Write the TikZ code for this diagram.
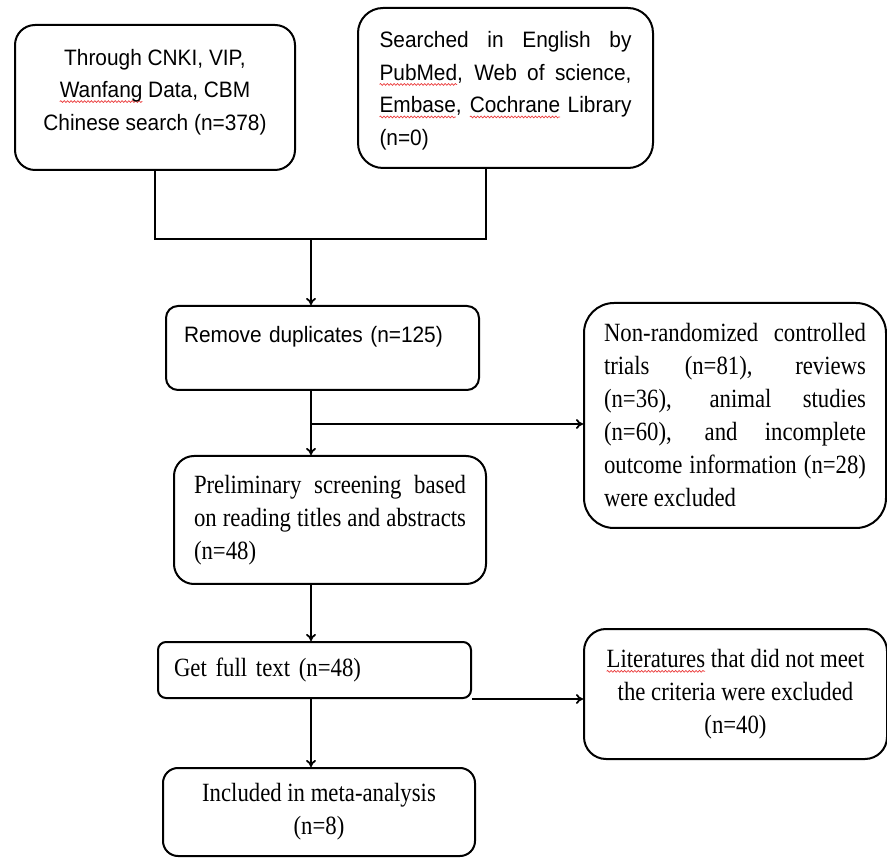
\documentclass[tikz,border=0pt]{standalone}
\usepackage{fontspec}
\setmainfont{Liberation Serif}[FakeStretch=0.865]
\setsansfont{Liberation Sans}[FakeStretch=0.935]
\usepackage{xcolor}
\usetikzlibrary{arrows.meta,positioning,calc,decorations.pathmorphing}
\definecolor{SpellRed}{RGB}{235,60,60}
\newlength\spellw
\newcommand\spellmark[1]{\settowidth\spellw{#1}\rlap{\tikz[overlay]\draw[sharp corners,SpellRed,line width=0.7pt,decorate,decoration={snake,amplitude=0.9pt,segment length=3.4pt}] (0pt,-4pt) -- (\spellw,-4pt);}#1}
\tolerance=10000
\hbadness=10000
\tikzset{
  fbox/.style={draw,line width=2pt,anchor=north west,inner sep=0pt},
  sansf/.style={font=\sffamily\fontsize{22.3}{32.5}\selectfont},
  serf/.style={font=\fontsize{26.3}{33}\selectfont},
  link/.style={line width=1.8pt},
  arr/.style={-{To[length=7pt,width=10pt]},line width=1.8pt},
}
\begin{document}
\begin{tikzpicture}[x=1pt,y=-1pt]
  \useasboundingbox (0,0) rectangle (887,858);
  % Search sources
  \node[fbox,sansf,rounded corners=20pt,minimum width=280pt,minimum height=145pt,align=center] (chn) at (14,24)
    {Through CNKI, VIP,\\ \spellmark{Wanfang} Data, CBM\\ Chinese search (n=378)\rule[-16pt]{0pt}{16pt}};
  \node[fbox,sansf,rounded corners=25pt,minimum width=295pt,minimum height=160pt,text width=252pt,align=justify] (eng) at (357,7)
    {\rule{0pt}{22pt}Searched in English by\linebreak \spellmark{PubMed}, Web of science,\linebreak \spellmark{Embase}, \spellmark{Cochrane} Library\linebreak (n=0)};
  % Screening steps
  \node[fbox,sansf,rounded corners=12pt,inner xsep=18pt,text width=277pt,text height=37pt,text depth=47pt,align=left] (dup) at (165,305)
    {Remove duplicates (n=125)};
  \node[fbox,serf,rounded corners=20pt,minimum width=312pt,minimum height=128pt,text width=272pt,align=justify] (scr) at (173,455)
    {Preliminary screening based\linebreak on reading titles and abstracts\linebreak (n=48)};
  \node[fbox,serf,rounded corners=8pt,inner xsep=16pt,text width=281pt,text height=34pt,text depth=22pt,align=left] (full) at (157,641)
    {Get full text (n=48)};
  \node[fbox,serf,rounded corners=15pt,minimum width=312pt,minimum height=88pt,align=center] (incl) at (162,767)
    {Included in meta-analysis\\ (n=8)};
  % Exclusions
  \node[fbox,serf,rounded corners=30pt,minimum width=302pt,minimum height=225pt,text width=262pt,align=justify] (excl) at (583,302)
    {Non-randomized controlled\linebreak trials (n=81), reviews\linebreak (n=36), animal studies\linebreak (n=60), and incomplete\linebreak outcome information (n=28)\linebreak were excluded};
  \node[fbox,serf,rounded corners=22pt,minimum width=303pt,minimum height=130pt,align=center] (lit) at (583,628)
    {\spellmark{Literatures} that did not meet\\ the criteria were excluded\\ (n=40)};
  % Connectors
  \coordinate (join) at (311,239);
  \coordinate (split) at (311,424);
  \draw[link] (chn.south) |- (join);
  \draw[link] ([xshift=-19.5pt]eng.south) |- (join);
  \draw[arr] (join) -- (join |- dup.north);
  \draw[arr] (join |- dup.south) -- (join |- scr.north);
  \draw[arr] (split) -- (split -| excl.west);
  \draw[arr] (join |- scr.south) -- (join |- full.north);
  \draw[arr] (full.south east) -- (full.south east -| lit.west);
  \draw[arr] (join |- full.south) -- (join |- incl.north);
\end{tikzpicture}
\end{document}
